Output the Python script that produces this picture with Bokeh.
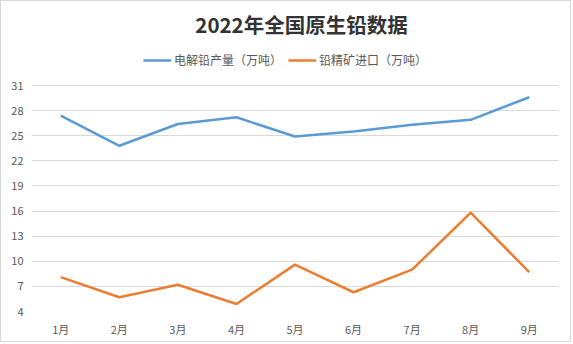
from bokeh.plotting import figure
from bokeh.models import FactorRange, Range1d, FixedTicker, Legend, LegendItem, Label
from bokeh.embed import file_html
from bokeh.resources import INLINE

months = ["1月", "2月", "3月", "4月", "5月", "6月", "7月", "8月", "9月"]
lead_output = [27.4, 23.8, 26.4, 27.2, 24.9, 25.5, 26.3, 26.9, 29.6]
ore_import = [8.1, 5.7, 7.2, 4.9, 9.6, 6.3, 9.0, 15.8, 8.7]
y_ticks = [4, 7, 10, 13, 16, 19, 22, 25, 28, 31]
title_text = "2022年全国原生铅数据"
series_names = ["电解铅产量（万吨）", "铅精矿进口（万吨）"]

FONT = "Noto Sans CJK SC"

# Plot area for the data spans 4..31 over 226 px; the frame is extended
# upward (to the canvas top) so that title and legend sit inside it.
Y_MIN, Y_MAX = 4, 31
px_per_unit = 226 / (Y_MAX - Y_MIN)
y_top = Y_MAX + 84 / px_per_unit

p = figure(width=571, height=342,
           x_range=FactorRange(*months, range_padding=0),
           y_range=Range1d(Y_MIN, y_top),
           output_backend="svg", toolbar_location=None,
           min_border_left=30, min_border_right=14,
           min_border_bottom=32, min_border_top=0,
           styles={"border": "1px solid #d9d9d9"})

p.outline_line_color = None
p.background_fill_color = "white"
p.border_fill_color = "white"

title = Label(x=270, y=288, x_units="screen", y_units="screen",
              text=title_text, text_align="center", text_baseline="middle",
              text_font=FONT, text_font_size="20.5px", text_font_style="bold",
              text_color="#333333")
p.add_layout(title)

r1 = p.line(months, lead_output, line_color="#5B9BD5", line_width=2.5)
r2 = p.line(months, ore_import, line_color="#ED7D31", line_width=2.5)

legend = Legend(items=[LegendItem(label=series_names[0], renderers=[r1]),
                       LegendItem(label=series_names[1], renderers=[r2])],
                orientation="horizontal", location=(112, 243),
                label_text_font=FONT, label_text_font_size="12px",
                label_text_color="#595959", glyph_width=28, glyph_height=12,
                label_standoff=3, spacing=6, padding=2, margin=0,
                border_line_color=None, background_fill_alpha=0)
p.add_layout(legend, "center")

p.xgrid.grid_line_color = None
p.ygrid.grid_line_color = "#d9d9d9"
p.ygrid.grid_line_width = 1
p.ygrid.ticker = FixedTicker(ticks=y_ticks)

p.yaxis.ticker = FixedTicker(ticks=y_ticks)
for ax in (p.xaxis[0], p.yaxis[0]):
    ax.axis_line_color = None
    ax.major_tick_line_color = None
    ax.minor_tick_line_color = None
    ax.major_tick_out = 0
    ax.major_tick_in = 0
    ax.minor_tick_out = 0
    ax.minor_tick_in = 0
    ax.major_label_text_font = FONT
    ax.major_label_text_font_size = "11px"
    ax.major_label_text_color = "#595959"
p.yaxis.major_label_standoff = 8
p.xaxis.major_label_standoff = 9

open("out.html", "w").write(file_html(p, INLINE))
